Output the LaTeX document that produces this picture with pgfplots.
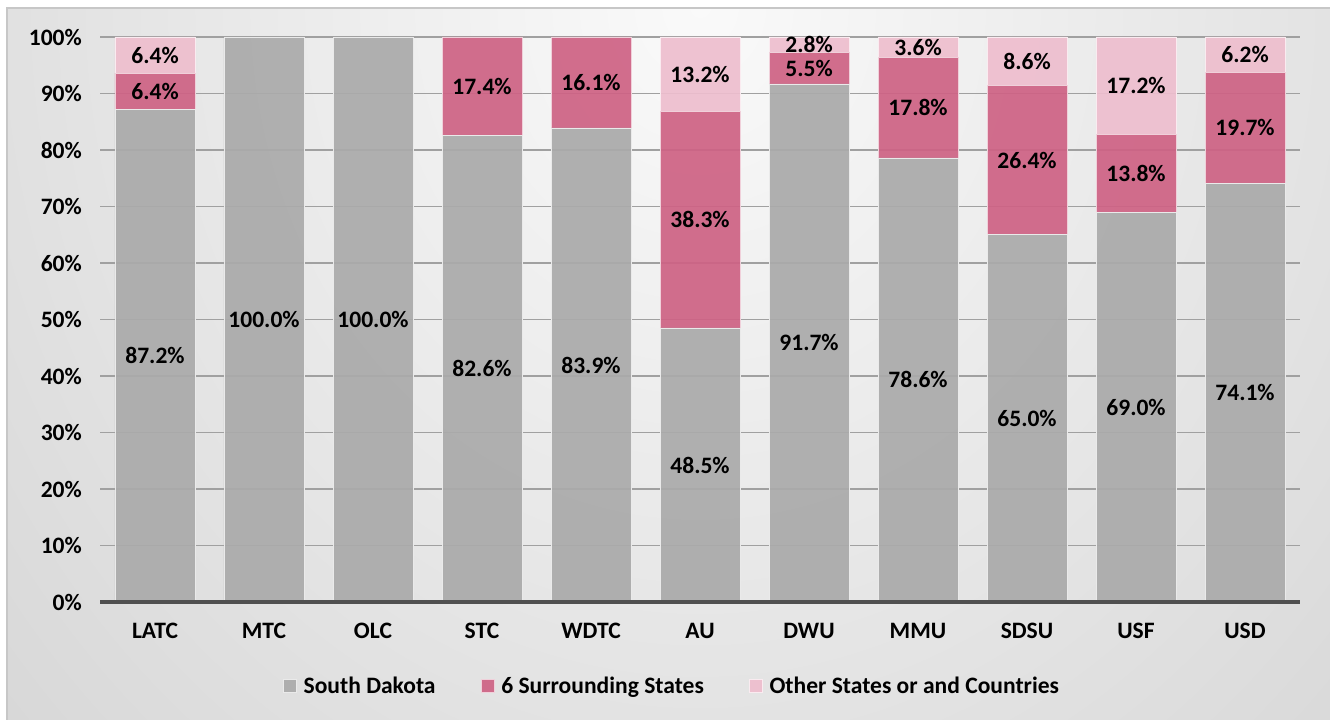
\documentclass[border=0pt]{standalone}
\usepackage{fontspec}
\setmainfont{Carlito}
\usepackage{pgfplots}
\usepackage{pgfplotstable}
\pgfplotsset{compat=1.18}
\usetikzlibrary{shadings}

\definecolor{sdgray}{RGB}{170,170,170}
\definecolor{surpink}{RGB}{206,98,132}
\definecolor{othpink}{RGB}{238,190,206}
\definecolor{gridc}{RGB}{160,160,160}
\definecolor{axisc}{RGB}{80,80,80}

% shares in percent, one row per school
\pgfplotstableread{
x  sd    sur   oth
0  87.2  6.4   6.4
1  100   0     0
2  100   0     0
3  82.6  17.4  0
4  83.9  16.1  0
5  48.5  38.3  13.2
6  91.7  5.5   2.8
7  78.6  17.8  3.6
8  65.0  26.4  8.6
9  69.0  13.8  17.2
10 74.1  19.7  6.2
}\shares

% label positions (middle of each segment)
\pgfplotstableread{
x  y      lab
0  43.6   87.2\%
0  90.4   6.4\%
0  96.8   6.4\%
1  50     100.0\%
2  50     100.0\%
3  41.3   82.6\%
3  91.3   17.4\%
4  41.95  83.9\%
4  91.95  16.1\%
5  24.25  48.5\%
5  67.65  38.3\%
5  93.4   13.2\%
6  45.85  91.7\%
6  94.45  5.5\%
6  98.6   2.8\%
7  39.3   78.6\%
7  87.5   17.8\%
7  98.2   3.6\%
8  32.5   65.0\%
8  78.2   26.4\%
8  95.7   8.6\%
9  34.5   69.0\%
9  75.9   13.8\%
9  91.4   17.2\%
10 37.05  74.1\%
10 84.0   19.7\%
10 96.9   6.2\%
}\labels

\newcommand{\lblfont}{\bfseries\fontsize{13.4pt}{16pt}\selectfont}

\begin{document}
\begin{tikzpicture}
\useasboundingbox (-20.1mm,-23.6mm) rectangle (245.9mm,120.4mm);
\fill[white] (-20.1mm,-23.6mm) rectangle (245.9mm,120.4mm);
\begin{scope}
  \clip (-18.7mm,-23.6mm) rectangle (245.9mm,118.8mm);
  \shade[inner color=black!2, outer color=black!22] (119.9mm,119.4mm) ellipse (280mm and 320mm);
\end{scope}
\draw[black!22, line width=0.3mm] (-18.7mm,-23.6mm) -- (-18.7mm,118.8mm) -- (245.9mm,118.8mm);

\begin{axis}[
    at={(0,0)}, anchor=south west,
    scale only axis,
    width=239.8mm, height=113mm,
    ybar stacked,
    bar width=16mm,
    xmin=-0.5, xmax=10.5,
    ymin=0, ymax=100,
    xtick=data,
    xticklabels={LATC,MTC,OLC,STC,WDTC,AU,DWU,MMU,SDSU,USF,USD},
    ytick={0,10,...,100},
    yticklabel={\pgfmathprintnumber{\tick}\%},
    /pgf/number format/assume math mode=true,
    ticklabel style={font=\lblfont},
    xticklabel style={yshift=-3mm},
    yticklabel style={xshift=-2.5mm},
    major tick style={draw=none},
    axis x line*=bottom,
    axis y line*=left,
    x axis line style={draw=none},
    y axis line style={draw=none},
    ymajorgrids,
    grid style={gridc, line width=0.3mm},
    legend style={at={(0.4775,-0.149)}, anchor=center, draw=none, fill=none,
        font=\lblfont, legend columns=3,
        /tikz/every even column/.append style={column sep=8.4mm}},
    legend image code/.code={\fill[#1] (0mm,-1.2mm) rectangle (2.6mm,1.4mm); \path (3.2mm,0);},
]
\addplot[fill=sdgray, fill opacity=0.92, draw=white!75!sdgray, line width=0.4pt] table[x=x, y=sd] {\shares};
\addlegendentry{South Dakota}
\addplot[fill=surpink, fill opacity=0.92, draw=white!70!surpink, line width=0.4pt] table[x=x, y=sur] {\shares};
\addlegendentry{6 Surrounding States}
\addplot[fill=othpink, fill opacity=0.92, draw=white!70!othpink, line width=0.4pt] table[x=x, y=oth] {\shares};
\addlegendentry{Other States or and Countries}
\end{axis}

\begin{axis}[
    at={(0,0)}, anchor=south west,
    scale only axis,
    width=239.8mm, height=113mm,
    xmin=-0.5, xmax=10.5,
    ymin=0, ymax=100,
    hide axis,
    clip=false,
]
\draw[axisc, line width=0.9mm] (axis cs:-0.5,0) -- (axis cs:10.5,0);
\addplot[draw=none, mark=none, nodes near coords, point meta=explicit symbolic,
    every node near coord/.append style={anchor=center, font=\lblfont, text=black}]
    table[x=x, y=y, meta=lab] {\labels};
\end{axis}
\end{tikzpicture}
\end{document}
